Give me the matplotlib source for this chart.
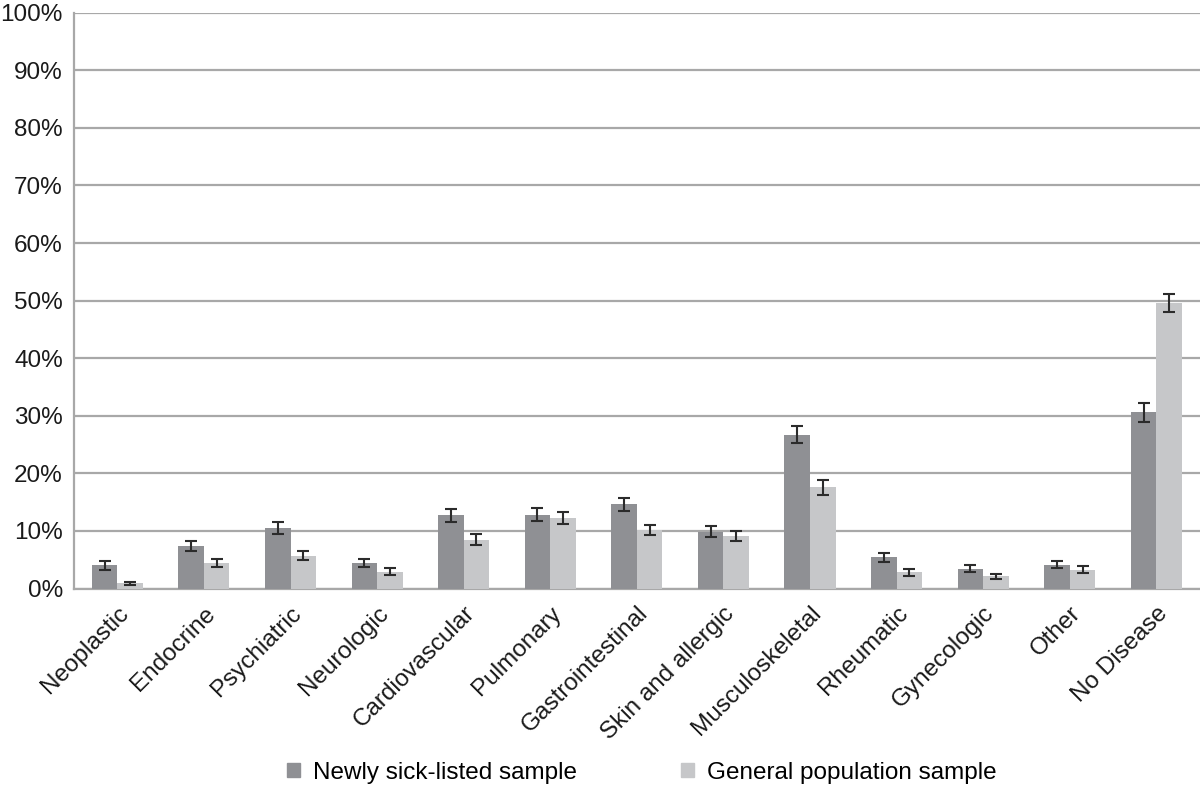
import numpy as np
import matplotlib.pyplot as plt
from matplotlib.patches import Patch

categories = ["Neoplastic", "Endocrine", "Psychiatric", "Neurologic", "Cardiovascular",
              "Pulmonary", "Gastrointestinal", "Skin and allergic", "Musculoskeletal",
              "Rheumatic", "Gynecologic", "Other", "No Disease"]
sick_listed = [4.0, 7.4, 10.5, 4.4, 12.7, 12.8, 14.6, 9.9, 26.7, 5.4, 3.4, 4.1, 30.6]
sick_err = [0.7, 0.85, 1.0, 0.7, 1.1, 1.15, 1.2, 0.9, 1.5, 0.75, 0.6, 0.6, 1.6]
general = [0.9, 4.4, 5.7, 2.95, 8.5, 12.2, 10.2, 9.1, 17.6, 2.8, 2.1, 3.3, 49.6]
general_err = [0.25, 0.7, 0.8, 0.6, 0.9, 1.05, 0.9, 0.9, 1.3, 0.6, 0.45, 0.6, 1.6]
series_names = ["Newly sick-listed sample", "General population sample"]

dark = "#8f9094"
light = "#c6c7c9"
grid_c = "#a8a8a8"
fs = 17.5

plt.rcParams['font.family'] = ['Liberation Sans', 'DejaVu Sans']

fig = plt.figure(figsize=(12, 7.87), dpi=100)
ax = fig.add_axes([0.0617, 0.2522, 0.938, 0.7317])

x = np.arange(len(categories))
w = 0.295
ekw = dict(ecolor="#2b2b2b", elinewidth=1.5, capsize=4, capthick=1.5)
ax.bar(x - w / 2, sick_listed, w, color=dark, yerr=sick_err, error_kw=ekw, zorder=3)
ax.bar(x + w / 2, general, w, color=light, yerr=general_err, error_kw=ekw, zorder=3)

ax.set_xlim(-0.5, len(categories) - 0.5)
ax.set_ylim(0, 100)
ax.set_yticks(np.arange(0, 101, 10))
ax.set_yticklabels([f"{v}%" for v in range(0, 101, 10)], fontsize=fs, color="#1a1a1a")
ax.set_xticks(x)
ax.set_xticklabels(categories, rotation=45, ha="right", rotation_mode="anchor",
                   fontsize=fs, color="#1a1a1a")
ax.tick_params(axis="both", length=0)
ax.tick_params(axis="y", pad=8)
ax.tick_params(axis="x", pad=10)

ax.yaxis.grid(True, color=grid_c, linewidth=1.6, zorder=0)
ax.set_axisbelow(True)
for s in ["top", "right"]:
    ax.spines[s].set_visible(False)
for s in ["left", "bottom"]:
    ax.spines[s].set_color(grid_c)
    ax.spines[s].set_linewidth(1.6)

handles = [Patch(color=dark), Patch(color=light)]
fig.legend(handles, series_names, loc="center", bbox_to_anchor=(0.535, 0.018),
           ncol=2, frameon=False, fontsize=fs, handlelength=0.5, handleheight=0.5,
           handletextpad=0.55, columnspacing=4.3)

fig.savefig("out.png", dpi=100)
